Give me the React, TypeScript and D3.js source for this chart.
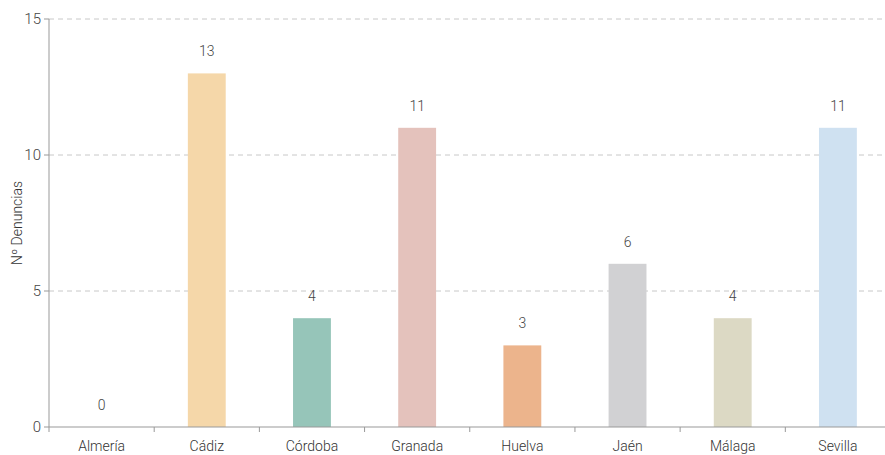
import React from "react";
import * as d3 from "d3";

const categories = ["Almería", "Cádiz", "Córdoba", "Granada", "Huelva", "Jaén", "Málaga", "Sevilla"];
const values = [0, 13, 4, 11, 3, 6, 4, 11];
const colors = ["#a9c7e0", "#f5d7a9", "#96c5b9", "#e4c2bc", "#ecb48c", "#d1d1d3", "#dcd9c4", "#cfe1f1"];
const yTicks = [0, 5, 10, 15];
const yLabel = "Nº Denuncias";

const W = 885, H = 455;
const M = { left: 49, top: 19, bottom: 28 };
const X_END = 890.5;
const FONT = "Roboto, 'Noto Sans', sans-serif";

export default function App() {
  const x = d3.scaleBand<string>().domain(categories).range([M.left, X_END]).paddingInner(0.64).paddingOuter(0.32);
  const step = (X_END - M.left) / categories.length;
  const y = d3.scaleLinear().domain([0, 15]).range([H - M.bottom, M.top]);
  const y0 = y(0);
  return (
    <svg width={W} height={H} style={{ position: "absolute", left: 0, top: 0 }} fontFamily={FONT}>
      {yTicks.filter(t => t > 0).map(t => (
        <line key={t} x1={M.left} x2={W} y1={y(t)} y2={y(t)} stroke="#c8c8c8" strokeDasharray="5,4" />
      ))}
      {categories.map((c, i) => (
        <rect key={c} x={x(c)} width={x.bandwidth()} y={y(values[i])} height={y0 - y(values[i])} fill={colors[i]} />
      ))}
      {categories.map((c, i) => (
        <text key={c} x={x(c)! + x.bandwidth() / 2} y={y(values[i]) - 17} textAnchor="middle" fontSize={14} fill="#444" fontWeight={300}>{values[i]}</text>
      ))}
      <line x1={M.left} x2={M.left} y1={M.top} y2={y0} stroke="#999" />
      <line x1={M.left} x2={W} y1={y0} y2={y0} stroke="#999" />
      {yTicks.map(t => (
        <g key={t}>
          <line x1={M.left - 5} x2={M.left} y1={y(t)} y2={y(t)} stroke="#999" />
          <text x={M.left - 8} y={y(t)} dy="0.35em" textAnchor="end" fontSize={15} fill="#444" fontWeight={300}>{t}</text>
        </g>
      ))}
      {categories.map((c, i) => (
        <g key={c}>
          <line x1={M.left + step * i} x2={M.left + step * i} y1={y0} y2={y0 + 5} stroke="#999" />
          <text x={x(c)! + x.bandwidth() / 2} y={y0 + 24} textAnchor="middle" fontSize={14} fill="#333" fontWeight={300}>{c}</text>
        </g>
      ))}
      <text transform={`translate(22,${(M.top + y0) / 2}) rotate(-90)`} textAnchor="middle" fontSize={14} fill="#333" fontWeight={300}>{yLabel}</text>
    </svg>
  );
}
